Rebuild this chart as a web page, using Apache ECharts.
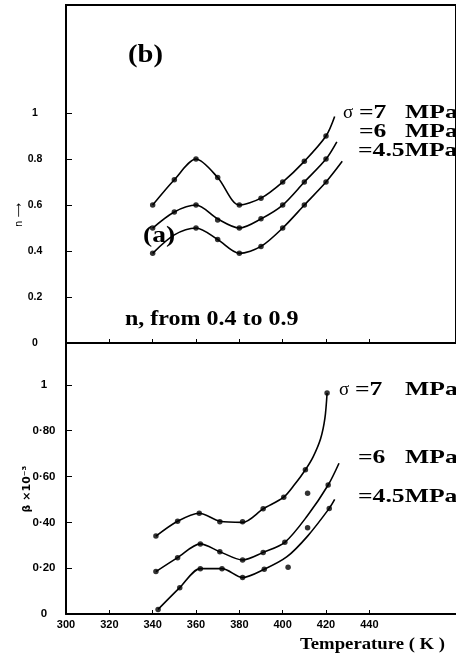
<!DOCTYPE html>
<html>
<head>
<meta charset="utf-8">
<script src="https://cdn.jsdelivr.net/npm/echarts@6/dist/echarts.min.js"></script>
<style>
  html, body { margin: 0; padding: 0; background: #fff; }
  #chart { width: 456px; height: 658px; }
</style>
</head>
<body>
<div id="chart"></div>
<script>
// Temperature axis (K)
const tempTicks = [300, 320, 340, 360, 380, 400, 420, 440];
const tempLabels = ['300', '320', '340', '360', '380', '400', '420', '440'];

// Upper panel: stress exponent n
const nTicks = [0, 0.2, 0.4, 0.6, 0.8, 1];
const nTickLabels = ['0', '0.2', '0.4', '0.6', '0.8', '1'];

// measured n points
const nTemp7 = [340, 350, 360, 370, 380, 390, 400, 410, 420];
const nVal7 = [0.60, 0.71, 0.80, 0.72, 0.60, 0.63, 0.70, 0.79, 0.90];
const nTemp6 = [340, 350, 360, 370, 380, 390, 400, 410, 420];
const nVal6 = [0.50, 0.57, 0.60, 0.535, 0.50, 0.54, 0.60, 0.70, 0.80];
const nTemp45 = [340, 360, 370, 380, 390, 400, 410, 420];
const nVal45 = [0.39, 0.50, 0.45, 0.39, 0.42, 0.50, 0.60, 0.70];

// fitted n curves
const nCurveTemp7 = [340, 350, 360, 370, 380, 390, 400, 410, 420, 424];
const nCurveVal7 = [0.60, 0.71, 0.80, 0.72, 0.60, 0.63, 0.70, 0.79, 0.90, 0.985];
const nCurveTemp6 = [340, 350, 360, 370, 380, 390, 400, 410, 420, 425];
const nCurveVal6 = [0.50, 0.57, 0.60, 0.54, 0.50, 0.54, 0.60, 0.70, 0.80, 0.875];
const nCurveTemp45 = [340, 350, 360, 370, 380, 390, 400, 410, 420, 427.5];
const nCurveVal45 = [0.39, 0.47, 0.50, 0.45, 0.39, 0.42, 0.50, 0.60, 0.70, 0.79];

// Lower panel: beta x 10^-3
const bTicks = [0, 0.2, 0.4, 0.6, 0.8, 1];
const bTickLabels = ['0', '0·20', '0·40', '0·60', '0·80', '1'];

// measured beta points
const bTemp7 = [341.5, 351.5, 361.5, 371, 381.5, 391, 400.5, 410.5, 420.5];
const bVal7 = [0.34, 0.405, 0.44, 0.403, 0.403, 0.459, 0.51, 0.63, 0.965];
const bTemp6 = [341.5, 351.5, 362, 371, 381.5, 391, 401, 411.5, 421];
const bVal6 = [0.185, 0.246, 0.306, 0.272, 0.236, 0.269, 0.313, 0.527, 0.563];
const bTemp45 = [342.5, 352.5, 362, 372, 381.5, 391.5, 402.5, 411.5, 421.5];
const bVal45 = [0.02, 0.115, 0.198, 0.198, 0.159, 0.195, 0.204, 0.377, 0.461];

// fitted beta curves
const bCurveTemp7 = [341.5, 351.5, 361.5, 371, 381.5, 391, 400.5, 405.5, 410.5, 414, 417.5, 419.5, 420.5];
const bCurveVal7 = [0.34, 0.405, 0.44, 0.405, 0.40, 0.459, 0.51, 0.565, 0.63, 0.685, 0.765, 0.855, 0.965];
const bCurveTemp6 = [341.5, 351.5, 362, 371, 381.5, 391, 401, 411.5, 421, 426];
const bCurveVal6 = [0.185, 0.246, 0.306, 0.272, 0.236, 0.269, 0.313, 0.43, 0.563, 0.658];
const bCurveTemp45 = [342.5, 352.5, 362, 372, 381.5, 391.5, 402, 411.5, 421.5, 424];
const bCurveVal45 = [0.02, 0.115, 0.198, 0.198, 0.159, 0.195, 0.25, 0.34, 0.461, 0.50];

const zip = (xs, ys) => xs.map((x, i) => [x, ys[i]]);
const INK = '#000';
const SERIF = '"Liberation Serif", "DejaVu Serif", serif';
const SANS = '"Liberation Sans", "DejaVu Sans", sans-serif';

function curve(xi, yi, xs, ys) {
  return {
    type: 'line', xAxisIndex: xi, yAxisIndex: yi,
    data: zip(xs, ys), symbol: 'none', smooth: 0.3,
    lineStyle: { color: INK, width: 1.6 }, silent: true, z: 3
  };
}
function points(xi, yi, xs, ys) {
  return {
    type: 'scatter', xAxisIndex: xi, yAxisIndex: yi,
    data: zip(xs, ys), symbol: 'circle', symbolSize: 5.5,
    itemStyle: { color: INK }, silent: true, z: 4
  };
}
function xAxis(gi, showLabels) {
  return {
    type: 'value', gridIndex: gi, min: 300, max: 480,
    axisLine: { show: true, lineStyle: { color: INK, width: 2 } },
    axisTick: { show: true, inside: true, length: 4, customValues: tempTicks, lineStyle: { color: INK, width: 1 } },
    axisLabel: {
      show: showLabels, customValues: tempTicks, margin: 5,
      color: INK, fontFamily: SANS, fontWeight: 'bold', fontSize: 11,
      formatter: v => tempLabels[tempTicks.indexOf(v)]
    },
    splitLine: { show: false }
  };
}
function yAxis(gi, max, ticks, labels, margin, size) {
  return {
    type: 'value', gridIndex: gi, min: 0, max: max,
    axisLine: { show: true, lineStyle: { color: INK, width: 2 } },
    axisTick: { show: true, inside: true, length: 6, customValues: ticks, lineStyle: { color: INK, width: 1 } },
    axisLabel: {
      customValues: ticks, margin: margin, align: 'center',
      color: INK, fontFamily: SANS, fontWeight: 'bold', fontSize: size,
      formatter: v => labels[ticks.indexOf(v)]
    },
    splitLine: { show: false }
  };
}

const chart = echarts.init(document.getElementById('chart'), null, { renderer: 'canvas' });

// bold serif annotation, stretched horizontally like the printed lettering
const serifText = (x, y, text, size, stretch, weight) => ({
  type: 'text', x: x, y: y, scaleX: stretch || 1, silent: true,
  style: { text: text, fill: INK, font: (weight || 'bold') + ' ' + size + 'px ' + SERIF, verticalAlign: 'middle' }
});

chart.setOption({
  animation: false,
  backgroundColor: '#fff',
  grid: [
    { left: 66, top: 5, width: 393, height: 338, show: true, borderColor: INK, borderWidth: 2, backgroundColor: 'transparent' },
    { left: 66, top: 343, width: 393, height: 271 }
  ],
  xAxis: [xAxis(0, false), xAxis(1, true)],
  yAxis: [
    yAxis(0, 1.47, nTicks, nTickLabels, 31, 10.5),
    yAxis(1, 1.183, bTicks, bTickLabels, 22, 11.5)
  ],
  series: [
    curve(0, 0, nCurveTemp7, nCurveVal7),
    curve(0, 0, nCurveTemp6, nCurveVal6),
    curve(0, 0, nCurveTemp45, nCurveVal45),
    points(0, 0, nTemp7, nVal7),
    points(0, 0, nTemp6, nVal6),
    points(0, 0, nTemp45, nVal45),
    curve(1, 1, bCurveTemp7, bCurveVal7),
    curve(1, 1, bCurveTemp6, bCurveVal6),
    curve(1, 1, bCurveTemp45, bCurveVal45),
    points(1, 1, bTemp7, bVal7),
    points(1, 1, bTemp6, bVal6),
    points(1, 1, bTemp45, bVal45)
  ],
  graphic: [
    serifText(128, 55, '(b)', 26, 1.1),
    serifText(143, 236, '(a)', 24, 1.15),
    serifText(125, 320, 'n, from 0.4 to 0.9', 20, 1.2),
    // stress labels, upper panel
    serifText(343, 113, 'σ', 19, 1.0, 'normal'),
    serifText(359, 113, '=7', 19, 1.35),
    serifText(405, 113, 'MPa', 19, 1.35),
    serifText(359, 132, '=6', 19, 1.35),
    serifText(405, 132, 'MPa', 19, 1.35),
    serifText(358, 151.5, '=4.5MPa', 19, 1.35),
    // stress labels, lower panel
    serifText(339, 390, 'σ', 19, 1.0, 'normal'),
    serifText(355, 390, '=7', 19, 1.35),
    serifText(405, 390, 'MPa', 19, 1.35),
    serifText(358, 458, '=6', 19, 1.35),
    serifText(405, 458, 'MPa', 19, 1.35),
    serifText(358, 497, '=4.5MPa', 19, 1.35),
    // axis titles
    { type: 'text', x: 19, y: 215, rotation: Math.PI / 2, silent: true,
      style: { text: 'n ⟶', fill: INK, font: '10px "DejaVu Sans", sans-serif', align: 'center', verticalAlign: 'middle' } },
    { type: 'text', x: 27, y: 489, rotation: Math.PI / 2, silent: true,
      style: { text: 'β ×10⁻³', fill: INK, font: 'bold 11px "DejaVu Sans", sans-serif', align: 'center', verticalAlign: 'middle' } },
    serifText(300, 645, 'Temperature ( K )', 16, 1.17)
  ]
});
</script>
</body>
</html>
